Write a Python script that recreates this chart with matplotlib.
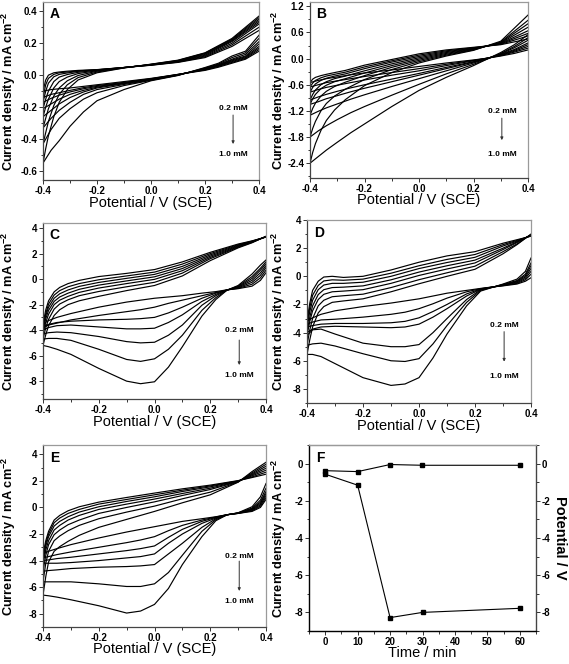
import matplotlib
matplotlib.use('Agg')
import matplotlib.pyplot as plt
import numpy as np
from matplotlib.ticker import MultipleLocator, FormatStrFormatter

plt.rcParams['font.family'] = ['Liberation Sans', 'DejaVu Sans']
plt.rcParams['axes.unicode_minus'] = False
plt.rcParams['mathtext.fontset'] = 'custom'
plt.rcParams['mathtext.rm'] = 'Liberation Sans'
plt.rcParams['mathtext.bf'] = 'Liberation Sans:bold'

# ---------------- potential grids (V vs SCE) ----------------
X_FWD_AB = [-0.40, -0.39, -0.38, -0.36, -0.34, -0.31, -0.27, -0.20, -0.10, 0.00, 0.10, 0.20, 0.30, 0.40]
X_REV_AB = [0.40, 0.35, 0.30, 0.25, 0.20, 0.10, 0.00, -0.10, -0.20, -0.25, -0.30, -0.34, -0.37, -0.40]
X_FWD = [-0.40, -0.39, -0.38, -0.36, -0.34, -0.31, -0.27, -0.20, -0.10, 0.00, 0.10, 0.20, 0.30, 0.35, 0.40]
X_REV = [0.40, 0.38, 0.35, 0.30, 0.26, 0.22, 0.17, 0.10, 0.05, 0.00, -0.05, -0.10, -0.20, -0.30, -0.35, -0.38, -0.40]

# ---------------- Panel A (mA cm-2) ----------------
A_fwd = [
    [-0.10, -0.03, 0.00, 0.015, 0.02, 0.025, 0.03, 0.035, 0.048, 0.062, 0.08, 0.11, 0.18, 0.28],
    [-0.14, -0.06, -0.02, 0.005, 0.015, 0.02, 0.027, 0.034, 0.048, 0.063, 0.082, 0.115, 0.19, 0.30],
    [-0.17, -0.10, -0.05, -0.01, 0.005, 0.014, 0.024, 0.033, 0.048, 0.064, 0.084, 0.12, 0.20, 0.32],
    [-0.21, -0.15, -0.10, -0.04, -0.012, 0.004, 0.018, 0.031, 0.048, 0.065, 0.086, 0.125, 0.21, 0.33],
    [-0.26, -0.20, -0.15, -0.08, -0.04, -0.012, 0.01, 0.028, 0.048, 0.066, 0.088, 0.13, 0.215, 0.34],
    [-0.33, -0.27, -0.21, -0.13, -0.08, -0.035, -0.002, 0.025, 0.047, 0.067, 0.09, 0.135, 0.22, 0.35],
    [-0.43, -0.36, -0.29, -0.19, -0.12, -0.06, -0.015, 0.02, 0.046, 0.068, 0.092, 0.138, 0.225, 0.36],
    [-0.55, -0.46, -0.38, -0.26, -0.17, -0.09, -0.03, 0.015, 0.045, 0.069, 0.094, 0.14, 0.23, 0.37],
]
A_rev = [
    [0.15, 0.10, 0.075, 0.05, 0.03, 0.005, -0.02, -0.04, -0.06, -0.07, -0.08, -0.085, -0.09, -0.10],
    [0.16, 0.105, 0.08, 0.055, 0.033, 0.005, -0.022, -0.045, -0.065, -0.078, -0.095, -0.11, -0.12, -0.14],
    [0.17, 0.11, 0.085, 0.058, 0.036, 0.004, -0.024, -0.048, -0.07, -0.085, -0.105, -0.125, -0.145, -0.17],
    [0.18, 0.115, 0.09, 0.06, 0.038, 0.003, -0.026, -0.05, -0.075, -0.095, -0.12, -0.15, -0.18, -0.21],
    [0.195, 0.12, 0.095, 0.063, 0.04, 0.002, -0.028, -0.053, -0.08, -0.105, -0.14, -0.18, -0.22, -0.26],
    [0.21, 0.13, 0.10, 0.066, 0.042, 0.0, -0.03, -0.058, -0.09, -0.12, -0.17, -0.22, -0.27, -0.33],
    [0.23, 0.14, 0.11, 0.07, 0.045, 0.0, -0.032, -0.065, -0.11, -0.15, -0.21, -0.27, -0.34, -0.43],
    [0.25, 0.15, 0.12, 0.075, 0.048, -0.002, -0.035, -0.09, -0.16, -0.23, -0.32, -0.41, -0.47, -0.55],
]

# ---------------- Panel B ----------------
B_fwd = [
    [-0.55, -0.47, -0.43, -0.39, -0.36, -0.32, -0.27, -0.15, -0.02, 0.11, 0.20, 0.26, 0.32, 0.45],
    [-0.65, -0.56, -0.50, -0.44, -0.40, -0.36, -0.31, -0.19, -0.05, 0.08, 0.18, 0.25, 0.33, 0.52],
    [-0.77, -0.66, -0.58, -0.50, -0.45, -0.40, -0.35, -0.23, -0.08, 0.05, 0.16, 0.24, 0.34, 0.58],
    [-0.95, -0.82, -0.72, -0.60, -0.53, -0.46, -0.40, -0.28, -0.12, 0.02, 0.14, 0.23, 0.35, 0.64],
    [-1.05, -0.92, -0.82, -0.69, -0.61, -0.53, -0.46, -0.33, -0.16, -0.01, 0.12, 0.22, 0.36, 0.72],
    [-1.30, -1.14, -1.02, -0.86, -0.75, -0.64, -0.54, -0.39, -0.20, -0.04, 0.10, 0.21, 0.37, 0.80],
    [-1.80, -1.60, -1.44, -1.20, -1.03, -0.86, -0.70, -0.48, -0.25, -0.07, 0.08, 0.20, 0.38, 0.88],
    [-2.40, -2.15, -1.95, -1.65, -1.42, -1.18, -0.94, -0.62, -0.32, -0.10, 0.06, 0.19, 0.40, 1.00],
]
B_rev = [
    [0.20, 0.12, 0.06, 0.01, -0.03, -0.10, -0.18, -0.26, -0.33, -0.37, -0.42, -0.46, -0.50, -0.55],
    [0.24, 0.15, 0.07, 0.01, -0.04, -0.13, -0.23, -0.32, -0.41, -0.46, -0.51, -0.55, -0.60, -0.65],
    [0.28, 0.17, 0.08, 0.01, -0.05, -0.16, -0.28, -0.38, -0.49, -0.55, -0.61, -0.66, -0.71, -0.77],
    [0.32, 0.19, 0.09, 0.01, -0.07, -0.20, -0.34, -0.47, -0.60, -0.67, -0.75, -0.82, -0.88, -0.95],
    [0.36, 0.21, 0.10, 0.00, -0.08, -0.23, -0.38, -0.53, -0.68, -0.76, -0.85, -0.92, -0.99, -1.05],
    [0.42, 0.25, 0.11, 0.00, -0.10, -0.28, -0.46, -0.64, -0.83, -0.93, -1.04, -1.13, -1.21, -1.30],
    [0.48, 0.28, 0.12, -0.01, -0.13, -0.35, -0.59, -0.84, -1.10, -1.24, -1.40, -1.54, -1.66, -1.80],
    [0.55, 0.32, 0.14, -0.01, -0.16, -0.43, -0.73, -1.10, -1.50, -1.70, -1.92, -2.10, -2.25, -2.40],
]

# ---------------- Panel C ----------------
C_fwd = [
    [-3.5, -2.4, -1.7, -1.0, -0.65, -0.35, -0.1, 0.2, 0.45, 0.75, 1.35, 2.1, 2.75, 3.0, 3.3],
    [-3.8, -2.7, -1.95, -1.25, -0.9, -0.6, -0.35, -0.05, 0.25, 0.55, 1.18, 2.0, 2.7, 2.98, 3.3],
    [-3.7, -2.85, -2.2, -1.5, -1.15, -0.85, -0.57, -0.26, 0.06, 0.37, 1.0, 1.9, 2.65, 2.95, 3.32],
    [-4.0, -3.1, -2.45, -1.75, -1.4, -1.1, -0.8, -0.47, -0.14, 0.18, 0.83, 1.8, 2.6, 2.93, 3.32],
    [-4.3, -3.4, -2.75, -2.0, -1.65, -1.35, -1.04, -0.7, -0.35, -0.02, 0.66, 1.7, 2.55, 2.9, 3.34],
    [-4.7, -3.8, -3.15, -2.35, -1.95, -1.62, -1.3, -0.97, -0.6, -0.25, 0.47, 1.6, 2.5, 2.88, 3.34],
    [-5.2, -4.35, -3.65, -2.85, -2.4, -2.0, -1.7, -1.35, -0.9, -0.5, 0.25, 1.45, 2.45, 2.85, 3.36],
]
C_rev = [
    [0.5, -0.1, -0.55, -0.75, -0.84, -0.98, -1.1, -1.3, -1.4, -1.5, -1.65, -1.8, -2.2, -2.7, -3.0, -3.25, -3.5],
    [0.7, 0.1, -0.4, -0.72, -0.85, -1.05, -1.3, -1.65, -1.9, -2.2, -2.4, -2.55, -2.85, -3.2, -3.45, -3.6, -3.8],
    [0.9, 0.3, -0.25, -0.68, -0.85, -1.1, -1.5, -2.2, -2.65, -3.0, -3.1, -3.15, -3.2, -3.3, -3.4, -3.55, -3.7],
    [1.05, 0.5, -0.1, -0.64, -0.85, -1.2, -1.75, -2.8, -3.4, -3.85, -3.9, -3.9, -3.75, -3.6, -3.65, -3.8, -4.0],
    [1.2, 0.7, 0.05, -0.6, -0.86, -1.3, -2.05, -3.6, -4.4, -4.95, -5.0, -4.9, -4.5, -4.2, -4.15, -4.2, -4.3],
    [1.35, 0.85, 0.2, -0.55, -0.86, -1.45, -2.45, -4.4, -5.5, -6.25, -6.45, -6.3, -5.5, -4.8, -4.65, -4.65, -4.7],
    [1.5, 1.1, 0.4, -0.5, -0.87, -1.6, -2.9, -5.3, -6.9, -8.05, -8.2, -8.0, -7.0, -5.9, -5.5, -5.3, -5.2],
]

# ---------------- Panel D ----------------
D_fwd = [
    [-3.2, -1.9, -1.0, -0.35, -0.05, 0.0, -0.08, 0.0, 0.45, 1.0, 1.45, 1.75, 2.35, 2.6, 2.85],
    [-3.4, -2.2, -1.35, -0.65, -0.33, -0.25, -0.28, -0.2, 0.22, 0.75, 1.2, 1.55, 2.25, 2.55, 2.87],
    [-3.6, -2.5, -1.7, -0.95, -0.62, -0.5, -0.5, -0.42, 0.0, 0.55, 0.98, 1.35, 2.15, 2.5, 2.9],
    [-4.0, -2.9, -2.1, -1.3, -0.95, -0.8, -0.77, -0.68, -0.25, 0.3, 0.75, 1.15, 2.0, 2.45, 2.92],
    [-4.2, -3.2, -2.45, -1.65, -1.28, -1.1, -1.05, -0.95, -0.5, 0.06, 0.52, 0.95, 1.9, 2.4, 2.95],
    [-4.9, -3.8, -3.0, -2.1, -1.7, -1.45, -1.38, -1.27, -0.8, -0.24, 0.25, 0.72, 1.75, 2.3, 2.97],
    [-5.55, -4.5, -3.6, -2.6, -2.15, -1.85, -1.75, -1.6, -1.1, -0.53, 0.0, 0.5, 1.6, 2.25, 3.0],
]
D_rev = [
    [-0.1, -0.35, -0.55, -0.68, -0.76, -0.86, -1.0, -1.2, -1.4, -1.6, -1.75, -1.9, -2.15, -2.45, -2.7, -2.95, -3.2],
    [0.15, -0.25, -0.5, -0.66, -0.77, -0.88, -1.1, -1.55, -1.95, -2.3, -2.55, -2.7, -2.9, -3.05, -3.1, -3.25, -3.4],
    [0.35, -0.15, -0.45, -0.64, -0.77, -0.9, -1.25, -2.0, -2.5, -2.95, -3.2, -3.3, -3.35, -3.35, -3.4, -3.5, -3.6],
    [0.55, -0.05, -0.4, -0.62, -0.78, -0.92, -1.4, -2.3, -2.9, -3.4, -3.6, -3.65, -3.6, -3.55, -3.6, -3.75, -4.0],
    [0.75, 0.05, -0.35, -0.6, -0.78, -0.95, -1.65, -3.0, -4.0, -4.85, -5.0, -5.0, -4.75, -4.1, -3.75, -3.8, -4.2],
    [0.95, 0.15, -0.3, -0.58, -0.79, -1.0, -1.85, -3.5, -4.8, -5.85, -6.05, -6.0, -5.5, -4.95, -4.75, -4.8, -4.9],
    [1.3, 0.35, -0.2, -0.55, -0.8, -1.05, -2.1, -4.1, -5.8, -7.2, -7.65, -7.75, -7.2, -6.2, -5.7, -5.55, -5.55],
]

# ---------------- Panel E ----------------
E_fwd = [
    [-3.5, -2.5, -1.8, -0.95, -0.6, -0.25, 0.05, 0.4, 0.75, 1.08, 1.4, 1.68, 2.02, 2.25, 2.5],
    [-3.8, -2.7, -2.0, -1.15, -0.8, -0.45, -0.15, 0.25, 0.6, 0.95, 1.3, 1.62, 2.0, 2.3, 2.65],
    [-4.0, -2.9, -2.2, -1.4, -1.05, -0.7, -0.35, 0.05, 0.45, 0.8, 1.2, 1.55, 1.98, 2.38, 2.8],
    [-4.2, -3.2, -2.5, -1.7, -1.35, -0.95, -0.6, -0.15, 0.25, 0.63, 1.05, 1.45, 1.96, 2.45, 2.95],
    [-4.8, -3.6, -2.8, -2.05, -1.7, -1.3, -0.95, -0.45, 0.0, 0.42, 0.9, 1.35, 1.94, 2.52, 3.1],
    [-5.6, -4.2, -3.3, -2.5, -2.15, -1.75, -1.35, -0.85, -0.35, 0.1, 0.65, 1.15, 1.92, 2.6, 3.25],
    [-6.6, -5.2, -4.1, -3.3, -2.95, -2.55, -2.1, -1.5, -0.9, -0.3, 0.35, 0.95, 1.9, 2.7, 3.4],
]
E_rev = [
    [0.6, 0.0, -0.3, -0.45, -0.55, -0.7, -0.85, -1.05, -1.25, -1.45, -1.65, -1.85, -2.3, -2.8, -3.1, -3.3, -3.5],
    [0.75, 0.1, -0.25, -0.45, -0.55, -0.72, -0.95, -1.35, -1.75, -2.2, -2.45, -2.65, -3.0, -3.35, -3.55, -3.7, -3.8],
    [0.9, 0.2, -0.2, -0.44, -0.55, -0.75, -1.05, -1.65, -2.25, -2.9, -3.1, -3.25, -3.5, -3.75, -3.85, -3.95, -4.0],
    [1.05, 0.3, -0.15, -0.43, -0.55, -0.8, -1.2, -2.0, -2.7, -3.5, -3.7, -3.8, -4.0, -4.15, -4.2, -4.2, -4.2],
    [1.2, 0.4, -0.1, -0.42, -0.55, -0.85, -1.5, -2.7, -3.5, -4.3, -4.4, -4.45, -4.5, -4.6, -4.7, -4.75, -4.8],
    [1.45, 0.55, -0.05, -0.41, -0.56, -0.92, -1.8, -3.6, -4.9, -5.75, -5.95, -5.95, -5.75, -5.6, -5.6, -5.6, -5.6],
    [1.8, 0.8, 0.05, -0.4, -0.56, -1.0, -2.2, -4.3, -6.1, -7.3, -7.8, -7.95, -7.4, -6.95, -6.75, -6.65, -6.6],
]

# ---------------- Panel F ----------------
F_time = [0, 10, 20, 30, 60]
F_current = [-0.57, -1.16, -8.28, -8.0, -7.78]
F_potential = [-0.38, -0.43, -0.05, -0.09, -0.09]

conc_labels = ["0.2 mM", "1.0 mM"]

# ---------------- layout ----------------
W, H = 569, 664
fig = plt.figure(figsize=(W / 100, H / 100), dpi=100)


def px_axes(l, t, r, b):
    return fig.add_axes([l / W, 1 - b / H, (r - l) / W, (b - t) / H])


TICK_FS = 7
YLAB_FS = 9.2
XLAB_FS = 10.5
YLAB = "Current density / mA cm$^{\\mathbf{-2}}$"


def common_style(ax):
    ax.tick_params(which='both', direction='out', top=False, right=False,
                   labelsize=TICK_FS, pad=1.2, width=0.7, color='#333333')
    ax.tick_params(which='major', length=3)
    ax.tick_params(which='minor', length=1.8)
    for lab in ax.get_xticklabels() + ax.get_yticklabels():
        lab.set_fontweight('bold')
    for s in ['top', 'right']:
        ax.spines[s].set_color('#9a9a9a')
    for s in ['left', 'bottom']:
        ax.spines[s].set_color('#444444')
    for s in ax.spines.values():
        s.set_linewidth(0.9)


def style(ax, ylim, ymaj, ymin, yfmt, ylabx, xlaby):
    ax.set_xlim(-0.4, 0.4)
    ax.set_ylim(*ylim)
    ax.xaxis.set_major_locator(MultipleLocator(0.2))
    ax.xaxis.set_minor_locator(MultipleLocator(0.1))
    ax.xaxis.set_major_formatter(FormatStrFormatter('%.1f'))
    ax.yaxis.set_major_locator(MultipleLocator(ymaj))
    ax.yaxis.set_minor_locator(MultipleLocator(ymin))
    ax.yaxis.set_major_formatter(FormatStrFormatter(yfmt))
    common_style(ax)
    ax.set_xlabel("Potential / V (SCE)", fontsize=XLAB_FS)
    ax.set_ylabel(YLAB, fontsize=YLAB_FS, fontweight='bold')
    ax.yaxis.set_label_coords(ylabx, 0.5)
    ax.xaxis.set_label_coords(0.5, xlaby)


def draw_loops(ax, xf, xr, fwd, rev):
    for f, r in zip(fwd, rev):
        ax.plot(xf, f, color='black', lw=0.85, solid_joinstyle='round')
        ax.plot(xr, r, color='black', lw=0.85, solid_joinstyle='round')


def annotate(ax, ytop, yarr0, yarr1, ybot, letter):
    ax.text(0.03, 0.93, letter, transform=ax.transAxes, fontsize=10,
            fontweight='bold', ha='left', va='center')
    ax.text(0.88, ytop, conc_labels[0], transform=ax.transAxes, fontsize=6,
            fontweight='bold', ha='center', va='center')
    ax.text(0.88, ybot, conc_labels[1], transform=ax.transAxes, fontsize=6,
            fontweight='bold', ha='center', va='center')
    ax.annotate('', xy=(0.88, yarr1), xytext=(0.88, yarr0),
                xycoords='axes fraction',
                arrowprops=dict(arrowstyle='-|>', color='#333333', lw=0.7,
                                mutation_scale=4, shrinkA=0, shrinkB=0))


# Panel A
axA = px_axes(43, 2, 259, 180)
draw_loops(axA, X_FWD_AB, X_REV_AB, A_fwd, A_rev)
style(axA, (-0.656, 0.458), 0.2, 0.1, '%.1f', -0.118, -0.088)
annotate(axA, 0.404, 0.365, 0.202, 0.146, 'A')

# Panel B
axB = px_axes(310, 2, 528, 178)
draw_loops(axB, X_FWD_AB, X_REV_AB, B_fwd, B_rev)
style(axB, (-2.74, 1.30), 0.6, 0.3, '%.1f', -0.10, -0.088)
annotate(axB, 0.38, 0.34, 0.215, 0.135, 'B')

# Panel C
axC = px_axes(43, 223, 266, 399)
draw_loops(axC, X_FWD, X_REV, C_fwd, C_rev)
style(axC, (-9.4, 4.4), 2, 1, '%d', -0.112, -0.09)
annotate(axC, 0.392, 0.335, 0.193, 0.136, 'C')

# Panel D
axD = px_axes(307, 220, 531, 403)
draw_loops(axD, X_FWD, X_REV, D_fwd, D_rev)
style(axD, (-9.0, 4.0), 2, 1, '%d', -0.085, -0.085)
annotate(axD, 0.426, 0.39, 0.226, 0.144, 'D')

# Panel E
axE = px_axes(43, 445, 266, 627)
draw_loops(axE, X_FWD, X_REV, E_fwd, E_rev)
style(axE, (-9.0, 4.7), 2, 1, '%d', -0.112, -0.085)
annotate(axE, 0.39, 0.362, 0.198, 0.138, 'E')

# Panel F
axF = px_axes(309, 445, 536, 631)
axF.plot(F_time, F_current, color='black', lw=0.8, marker='s', ms=2.8)
axF.set_xlim(-5, 65)
axF.set_ylim(-9, 1)
axF.xaxis.set_major_locator(MultipleLocator(10))
axF.xaxis.set_minor_locator(MultipleLocator(5))
axF.yaxis.set_major_locator(MultipleLocator(2))
axF.yaxis.set_minor_locator(MultipleLocator(1))
axF.yaxis.set_major_formatter(FormatStrFormatter('%d'))
common_style(axF)
axF.set_xlabel("Time / min", fontsize=XLAB_FS)
axF.xaxis.set_label_coords(0.5, -0.083)
axF.set_ylabel(YLAB, fontsize=YLAB_FS, fontweight='bold')
axF.yaxis.set_label_coords(-0.093, 0.5)
axF.text(0.03, 0.93, 'F', transform=axF.transAxes, fontsize=10,
         fontweight='bold', ha='left', va='center')

axF2 = axF.twinx()
axF2.plot(F_time, F_potential, color='black', lw=0.8, marker='s', ms=2.8)
axF2.set_ylim(-9, 1)
axF2.yaxis.set_major_locator(MultipleLocator(2))
axF2.yaxis.set_minor_locator(MultipleLocator(1))
axF2.yaxis.set_major_formatter(FormatStrFormatter('%d'))
axF2.tick_params(which='both', direction='out', right=True, left=False,
                 labelsize=TICK_FS, pad=1.2, width=0.7, color='#333333')
axF2.tick_params(which='major', length=3)
axF2.tick_params(which='minor', length=1.8)
for lab in axF2.get_yticklabels():
    lab.set_fontweight('bold')
axF2.spines['right'].set_color('#444444')
axF2.spines['top'].set_color('#9a9a9a')
for s in axF2.spines.values():
    s.set_linewidth(0.9)
axF2.set_ylabel("Potential / V", fontsize=XLAB_FS, fontweight='bold', rotation=270)
axF2.yaxis.set_label_coords(1.135, 0.5)

fig.savefig('out.png', dpi=100)
